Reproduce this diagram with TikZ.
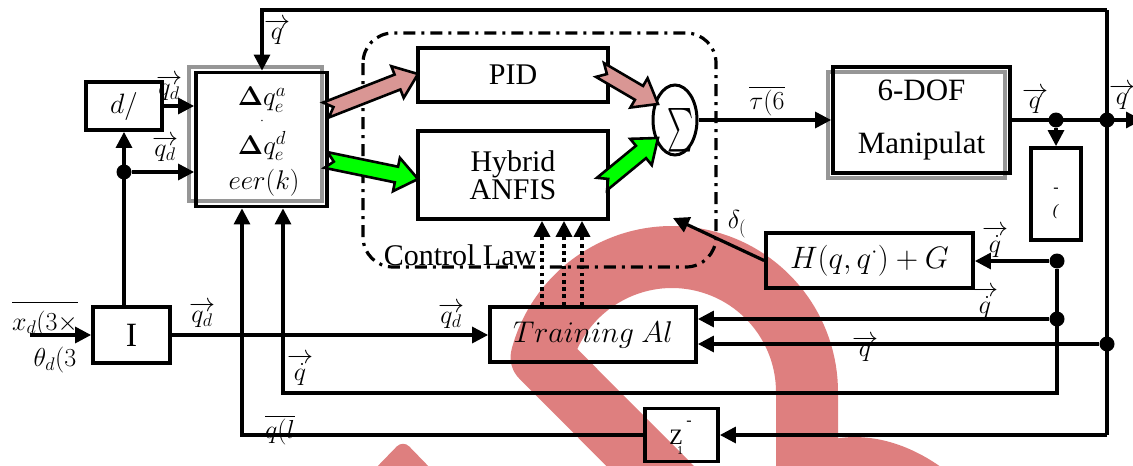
\RequirePackage{fix-cm}
\documentclass[tikz,border=0pt]{standalone}
\usepackage{amsmath}
\usepackage{graphicx}
\usepackage[no-math]{fontspec}
\setmainfont{Liberation Serif}
\usetikzlibrary{arrows.meta,shapes.geometric,calc}
\definecolor{wmred}{RGB}{222,127,127}
\definecolor{pinkf}{RGB}{217,150,148}
\definecolor{greenf}{RGB}{0,255,0}
\definecolor{shadowgray}{RGB}{150,150,150}
\newcommand{\fatarrow}[3]{%
  \filldraw[fill=#3, draw=black, line width=2.6pt, line join=miter]
    let \p1=(#1), \p2=(#2),
        \n1={atan2((\y2)-(\y1),(\x2)-(\x1))},
        \n2={veclen((\x2)-(\x1),(\y2)-(\y1))} in
    [shift={(\p1)}, rotate=\n1]
    (0,8) -- (\n2-22,8) -- (\n2-22,17) -- (\n2,0) -- (\n2-22,-17) -- (\n2-22,-8) -- (0,-8) -- (8,0) -- cycle;}
\begin{document}
\begin{tikzpicture}[x=1pt,y=-1pt,
  conn/.style={line width=3.2pt},
  arr/.style={conn,-{Triangle[length=16pt,width=16pt]}},
  bx/.style={draw,line width=3.8pt,inner sep=0pt},
  dotn/.style={circle,fill,inner sep=0pt,minimum size=15pt},
  lbl/.style={inner sep=0pt,font=\fontsize{26}{28}\selectfont},
  boxtxt/.style={font=\fontsize{30}{30}\selectfont},
  dotarr/.style={line width=3.6pt,dash pattern=on 3.6pt off 3.6pt,-{Triangle[length=16pt,width=16pt]}},
  ctrl/.style={line width=3.2pt,dash pattern=on 12pt off 6pt on 3pt off 6pt,rounded corners=30pt},
  shadowbox/.style={draw=shadowgray,line width=3.6pt}]
\useasboundingbox (0,0) rectangle (1133,466);
\clip (0,0) rectangle (1133,466);
% watermark
\draw[wmred, line width=62pt, line join=round] (725,541) -- (541.6,357.1) arc[start angle=195, end angle=360, radius=135] -- ++(0,160);
\fill[wmred] (822,442) .. controls (860,430) and (905,440) .. (945,470) -- (805,470) -- cycle;
\fill[wmred, rounded corners=9pt] (372,472) -- (403,440) -- (434,472) -- cycle;
% control law region
\draw[ctrl] (363,33) rectangle (716,267);
\node[anchor=base, inner sep=0pt, font=\fontsize{30}{30}\selectfont] (cl) at (460,265) {Control Law};
% shadows
\draw[shadowbox] (189,67) rectangle (322,201);
\draw[shadowbox] (828,72) rectangle (1005,178);
% boxes
\node[bx, minimum width=76pt, minimum height=48pt, font=\fontsize{28}{28}\selectfont] (dbox) at (124,106) {$d/$};
\node[bx, minimum width=131pt, minimum height=134pt] (blk) at (261.5,139.5) {};
\node[font=\fontsize{27}{27}\selectfont, inner sep=0pt] (ta) at (262,100) {$\mathbf{\Delta} q_e^a$};
\node[font=\fontsize{14}{14}\selectfont, inner sep=0pt] (tdot) at (262,121) {$\cdot$};
\node[font=\fontsize{27}{27}\selectfont, inner sep=0pt] (tb) at (262,146) {$\mathbf{\Delta} q_e^d$};
\node[font=\fontsize{27}{27}\selectfont, inner sep=0pt] (tc) at (264,183) {$eer(k)$};
\node[bx, minimum width=190pt, minimum height=54pt, boxtxt] (pid) at (513,75) {PID};
\node[bx, minimum width=190pt, minimum height=88pt, align=center, font=\fontsize{30}{28}\selectfont] (anf) at (513,175) {Hybrid\\ANFIS};
\node[draw, ellipse, line width=3pt, minimum width=44pt, minimum height=70pt, inner sep=0pt] (sum) at (675,120) {};
\node[inner sep=0pt] (sig) at (681,130) {\scalebox{1}[1.75]{\fontsize{30}{30}\selectfont$\sum$}};
\node[bx, minimum width=177pt, minimum height=106pt, align=center, font=\fontsize{31}{53}\selectfont] (dof) at (921.5,120) {6-DOF\\Manipulat};
\node[bx, minimum width=50pt, minimum height=92pt] (sbox) at (1056,194) {};
\node[font=\fontsize{16}{16}\selectfont] (sb1) at (1056,190) {-};
\node[font=\fontsize{16}{16}\selectfont] (sb2) at (1056,212) {\textit{(}};
\node[bx, minimum width=207pt, minimum height=55pt, font=\fontsize{31}{31}\selectfont] (hbox) at (869.5,260.5) {$H(q,q^{\cdot})+G$};
\node[bx, minimum width=77pt, minimum height=56pt, font=\fontsize{34}{34}\selectfont] (ibox) at (131.5,335) {I};
\node[bx, minimum width=206pt, minimum height=55pt, font=\fontsize{30}{30}\selectfont] (trn) at (593,334.5) {$Training\ Al$};
\node[bx, minimum width=73pt, minimum height=53pt] (zbox) at (681.5,435) {};
\node[font=\fontsize{22}{22}\selectfont, inner sep=0pt] (zt) at (676,437) {Z};
\node[font=\fontsize{16}{16}\selectfont, inner sep=0pt] (zm) at (689,423) {-};
\node[font=\fontsize{12}{12}\selectfont, inner sep=0pt] (z1) at (680,451) {1};
% junctions and corners
\node[dotn] (j1) at (124,172) {};
\node[dotn] (j2) at (1056,120) {};
\node[dotn] (j3) at (1107,120) {};
\node[dotn] (j4) at (1057,261) {};
\node[dotn] (j5) at (1057,319) {};
\node[dotn] (j6) at (1107,344) {};
\coordinate (ctr) at (1107,10);
\coordinate (ctl) at (262,10);
\coordinate (cbr) at (1107,435);
\coordinate (c393r) at (1057,393);
\coordinate (c393l) at (283,393);
\coordinate (c436l) at (242,435);
\coordinate (in0) at (30,335);
\coordinate (out) at (1142,120);
\coordinate (dtip) at (673,218);
% connectors
\draw[arr] (in0) -- (ibox.west);
\draw[arr] (ibox.north -| dbox.south) -- (dbox.south);
\draw[arr] (j1) -- (j1 -| blk.west);
\draw[arr] (dbox.east) -- (dbox.east -| blk.west);
\draw[arr] (ibox.east) -- (ibox.east -| trn.west);
\draw[conn] (ctr) -- (cbr);
\draw[arr] (cbr) -- (cbr -| zbox.east);
\draw[arr] (ctr) -- (ctl) -- (ctl |- blk.north);
\draw[arr] (zbox.west) -- (c436l) -- (c436l |- blk.south);
\draw[arr] (sum.east) -- (sum.east -| dof.west);
\draw[arr] (dof.east) -- (out);
\draw[arr] (j2) -- (j2 |- sbox.north);
\draw[arr] (j4) -- (j4 -| hbox.east);
\draw[arr] (j4) -- (c393r) -- (c393l) -- (c393l |- blk.south);
\draw[arr] (j5) -- (j5 -| trn.east);
\draw[arr] (j6) -- (j6 -| trn.east);
\draw[arr] (hbox.west) -- (dtip);
\path ([xshift=-51pt]trn.north) coordinate (t1) ([xshift=-29pt]trn.north) coordinate (t2) ([xshift=-11pt]trn.north) coordinate (t3);
\draw[dotarr] (t1) -- (t1 |- anf.south);
\draw[dotarr] (t2) -- (t2 |- anf.south);
\draw[dotarr] (t3) -- (t3 |- anf.south);
% fat arrows
\coordinate (p1s) at (326,110); \coordinate (p1e) at (418,74);
\coordinate (g1s) at (326,160); \coordinate (g1e) at (418,179);
\coordinate (p2s) at (600,70); \coordinate (p2e) at (658,104);
\coordinate (g2s) at (602,184); \coordinate (g2e) at (658,138);
\fatarrow{p1s}{p1e}{pinkf}
\fatarrow{g1s}{g1e}{greenf}
\fatarrow{p2s}{p2e}{pinkf}
\fatarrow{g2s}{g2e}{greenf}
% labels
\node[lbl] (lq1) at (277,32) {$\overrightarrow{q}$};
\node[lbl] (lq2) at (169,88) {$\overrightarrow{q_d}$};
\node[lbl] (lq3) at (165,149) {$\overrightarrow{q_d}$};
\node[lbl] (lq4) at (202,315) {$\overrightarrow{q_d}$};
\node[lbl] (lq5) at (300,370) {$\overrightarrow{\dot q}$};
\node[lbl] (lq6) at (451,316) {$\overrightarrow{q_d}$};
\node[lbl] (lq7) at (995,242) {$\overrightarrow{\dot q}$};
\node[lbl] (lq8) at (985,303) {$\overrightarrow{\dot q}$};
\node[lbl] (lq9) at (865,349) {$\overrightarrow{q}$};
\node[lbl] (lq10) at (1035,101) {$\overrightarrow{q}$};
\node[lbl] (lq11) at (1122,97) {$\overrightarrow{q}$};
\node[lbl] (ltau) at (767,101) {$\overline{\tau(6}$};
\node[lbl] (lql) at (280,430) {$\overline{q(l}$};
\node[lbl] (ldel) at (737,224) {$\delta_($};
\node[lbl, anchor=base] (lx) at (45,330) {$\overline{\rule{0pt}{24pt}x_d(3\times}$};
\node[lbl] (lth) at (55,360) {$\theta_d(3$};
\end{tikzpicture}
\end{document}
